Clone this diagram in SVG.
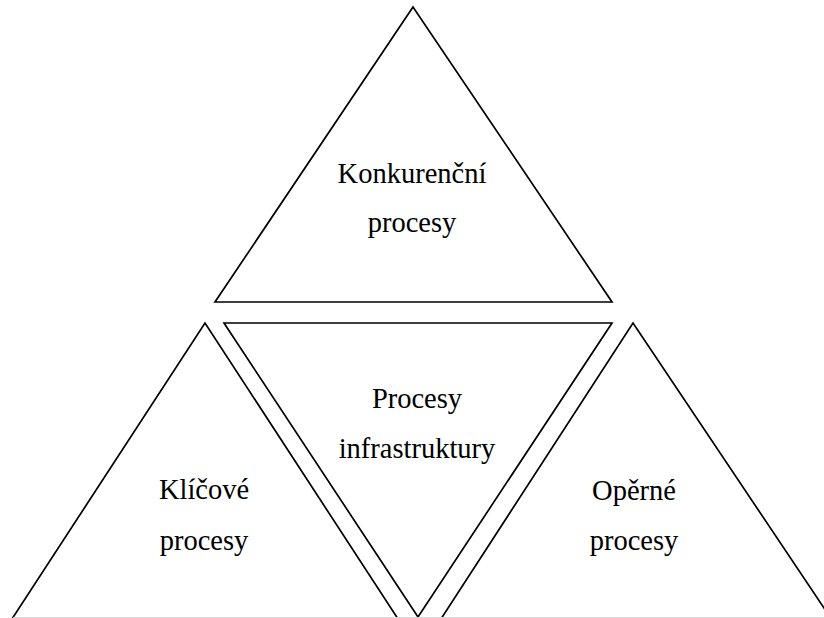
<svg xmlns="http://www.w3.org/2000/svg" width="824" height="618" viewBox="0 0 824 618">
  <style>
    .tri { fill: none; stroke: #000; stroke-width: 1.7; stroke-linejoin: miter; }
    .lbl { font-family: "Liberation Serif", "Times New Roman", serif; font-size: 28.5px; fill: #000; text-anchor: middle; }
  </style>
  <rect x="0" y="0" width="824" height="618" fill="#fff"/>

  <!-- top triangle -->
  <g id="konkurencni">
    <polygon class="tri" points="413,7 215,302 612,302"/>
    <text class="lbl" x="412" y="183">Konkurenční</text>
    <text class="lbl" x="412" y="232">procesy</text>
  </g>

  <!-- lower left triangle (base runs past the bottom edge) -->
  <g id="klicove">
    <polyline class="tri" points="10,622 205,323 400,622"/>
    <text class="lbl" x="204" y="499">Klíčové</text>
    <text class="lbl" x="204" y="550">procesy</text>
  </g>

  <!-- inverted middle triangle -->
  <g id="infrastruktura">
    <polygon class="tri" points="224,323 612,323 418,617"/>
    <text class="lbl" x="417" y="408">Procesy</text>
    <text class="lbl" x="417" y="458">infrastruktury</text>
  </g>

  <!-- lower right triangle (base runs past the edges) -->
  <g id="operne">
    <polyline class="tri" points="439,622 633,323 830,617"/>
    <text class="lbl" x="634" y="500">Opěrné</text>
    <text class="lbl" x="634" y="550">procesy</text>
  </g>

  <!-- thin bottom rule -->
  <rect x="13" y="617" width="811" height="1" fill="#d8d8d8"/>
</svg>
